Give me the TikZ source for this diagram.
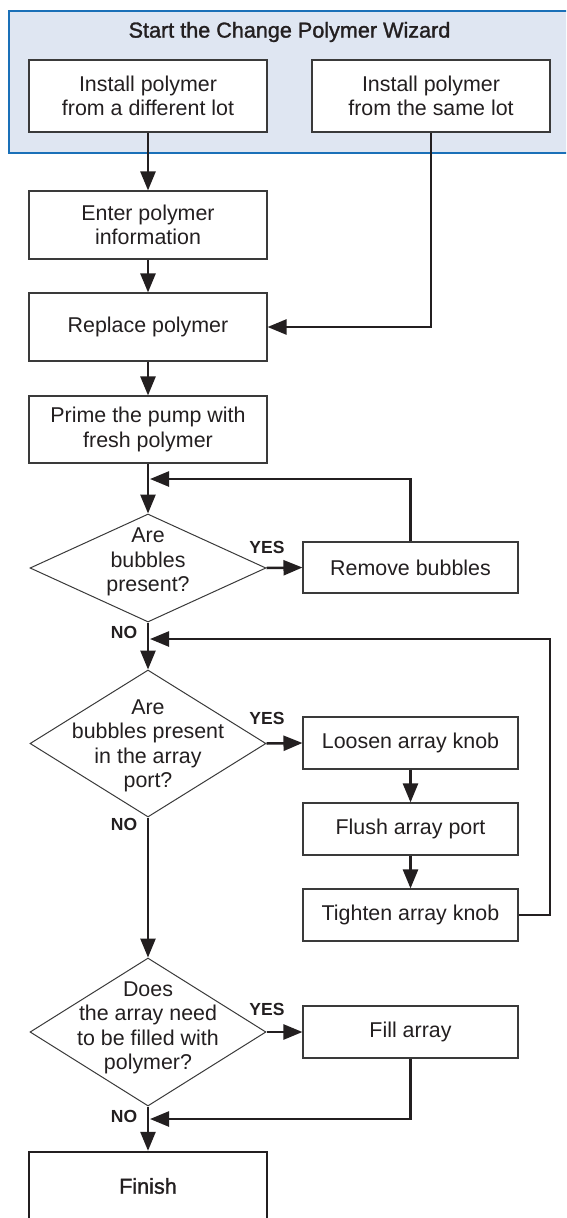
\documentclass[tikz,border=0pt]{standalone}
\usepackage{fontspec}
\setmainfont{Liberation Sans}
\newfontfamily\medfont[FakeBold=1.4]{Liberation Sans}
\usetikzlibrary{arrows.meta,shapes.geometric}
\definecolor{ink}{HTML}{231F20}
\definecolor{boxline}{HTML}{3A3A3A}
\definecolor{wizfill}{HTML}{DFE6F2}
\definecolor{wizline}{HTML}{1A70B8}
\newcommand{\myBody}{\fontsize{21.4}{24.5}\selectfont}
\newcommand{\myTitle}{\medfont\fontsize{21.6}{24}\selectfont}
\newcommand{\myLabel}{\bfseries\fontsize{17.5}{20}\selectfont}
\tikzset{
  wizbox/.style={draw=wizline, line width=2.2pt, fill=wizfill, inner sep=0pt},
  titletxt/.style={text=ink, font=\myTitle, inner sep=0pt},
  stepbox/.style={draw=boxline, line width=1.1pt, fill=white, text=ink, align=center, inner sep=0pt, font=\myBody},
  finishbox/.style={draw=ink, line width=2.4pt, fill=white, text=ink, align=center, inner sep=0pt, font=\myTitle},
  decision/.style={shape=diamond, draw=boxline, line width=1pt, fill=white, inner sep=0pt},
  dtext/.style={text=ink, align=center, inner sep=0pt, font=\myBody},
  lbl/.style={text=ink, inner sep=0pt, font=\myLabel},
  conn/.style={draw=ink, line width=2.5pt, line join=miter, -{Triangle[length=19pt,width=15pt]}}
}
\begin{document}
\begin{tikzpicture}[x=1pt,y=-1pt]
\clip (0,0) rectangle (566,1218);
% wizard frame
\node[wizbox, minimum width=590pt, minimum height=142pt] (wiz) at (304,82) {};
\node[titletxt] (title) at (289.5,32) {Start the Change Polymer Wizard};
\node[stepbox, minimum width=238pt, minimum height=72pt] (inst1) at (148,96) {Install polymer\\from a different lot};
\node[stepbox, minimum width=238pt, minimum height=72pt] (inst2) at (431,96) {Install polymer\\from the same lot};
% left column
\node[stepbox, minimum width=238pt, minimum height=68pt] (enter) at (148,225) {Enter polymer\\information};
\node[stepbox, minimum width=238pt, minimum height=68pt] (replace) at (148,327) {Replace polymer};
\node[stepbox, minimum width=238pt, minimum height=67pt] (prime) at (148,429.5) {Prime the pump with\\fresh polymer};
% decision 1
\node[decision, minimum width=236pt, minimum height=108pt] (d1) at (148,568) {};
\node[dtext] (d1t) at (148,562) {Are\\bubbles\\present?};
\node[stepbox, minimum width=215pt, minimum height=51pt] (remove) at (410.5,567.5) {Remove bubbles};
% decision 2
\node[decision, minimum width=236pt, minimum height=147pt] (d2) at (148,743.5) {};
\node[dtext] (d2t) at (148,746) {Are\\bubbles present\\in the array\\port?};
\node[stepbox, minimum width=215pt, minimum height=52pt] (loosen) at (410.5,743) {Loosen array knob};
\node[stepbox, minimum width=215pt, minimum height=52pt] (flush) at (410.5,829) {Flush array port};
\node[stepbox, minimum width=215pt, minimum height=52pt] (tighten) at (410.5,915) {Tighten array knob};
% decision 3
\node[decision, minimum width=236pt, minimum height=148pt] (d3) at (148,1032) {};
\node[dtext] (d3t) at (148,1028) {Does\\the array need\\to be filled with\\polymer?};
\node[stepbox, minimum width=215pt, minimum height=52pt] (fill) at (410.5,1032) {Fill array};
% finish
\node[finishbox, minimum width=238pt, minimum height=68pt] (finish) at (148,1186) {Finish};
% labels
\node[lbl] (y1) at (267,547) {YES};
\node[lbl] (y2) at (267,718) {YES};
\node[lbl] (y3) at (267,1009) {YES};
\node[lbl] (n1) at (124,632) {NO};
\node[lbl] (n2) at (124,824) {NO};
\node[lbl] (n3) at (124,1116) {NO};
% merge points
\coordinate (m1) at (150,479);
\coordinate (m2) at (150,639);
\coordinate (r2) at (550,639);
\coordinate (m3) at (150,1119);
% connectors
\draw[conn] (inst1.south) -- (enter.north);
\draw[conn] (enter.south) -- (replace.north);
\draw[conn] (inst2.south) |- (replace.east);
\draw[conn] (replace.south) -- (prime.north);
\draw[conn] (prime.south) -- (d1.north);
\draw[conn] (remove.north) |- (m1);
\draw[conn] (d1.east) -- (remove.west);
\draw[conn] (d1.south) -- (d2.north);
\draw[conn] (d2.east) -- (loosen.west);
\draw[conn] (loosen.south) -- (flush.north);
\draw[conn] (flush.south) -- (tighten.north);
\draw[conn] (tighten.east) -| (r2) -- (m2);
\draw[conn] (d2.south) -- (d3.north);
\draw[conn] (d3.east) -- (fill.west);
\draw[conn] (fill.south) |- (m3);
\draw[conn] (d3.south) -- (finish.north);
\end{tikzpicture}
\end{document}
